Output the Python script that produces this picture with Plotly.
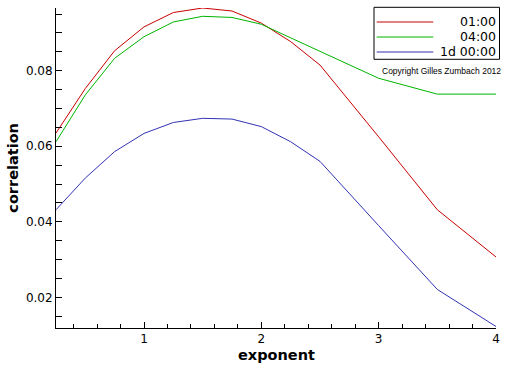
import plotly.graph_objects as go

# ---- data ----
exponent = [0.25, 0.5, 0.75, 1.0, 1.25, 1.5, 1.75, 2.0, 2.25, 2.5, 3.0, 3.5, 4.0]
corr_0100 = [0.0635, 0.0753, 0.0853, 0.0916, 0.0954, 0.0966, 0.0958, 0.0926, 0.0877, 0.0815, 0.0625, 0.0432, 0.0307]
corr_0400 = [0.0612, 0.0736, 0.0833, 0.0890, 0.0929, 0.0944, 0.0941, 0.0923, 0.0887, 0.0852, 0.0780, 0.0738, 0.0738]
corr_1d = [0.0432, 0.0516, 0.0586, 0.0634, 0.0663, 0.0674, 0.0672, 0.0652, 0.0612, 0.0560, 0.0390, 0.0221, 0.0123]
series_names = ["01:00", "04:00", "1d 00:00"]
series_values = [corr_0100, corr_0400, corr_1d]
series_colors = ["#c80000", "#00b400", "#3232b4"]

W, H = 512, 366
ML, MR, MT, MB = 56, 16, 8, 38
PW, PH = W - ML - MR, H - MT - MB


def px(x):
    return (x - ML) / PW


def py(y):
    return (H - MB - y) / PH


fig = go.Figure()
for name, vals, col in zip(series_names, series_values, series_colors):
    fig.add_trace(go.Scatter(x=exponent, y=vals, mode="lines", name=name,
                             line=dict(color=col, width=1), showlegend=False))

tickfont = dict(family="DejaVu Sans", size=12, color="black")
fig.update_layout(
    width=W, height=H,
    margin=dict(l=ML, r=MR, t=MT, b=MB),
    paper_bgcolor="white", plot_bgcolor="white",
    xaxis=dict(range=[0.25, 4.0], showgrid=False, zeroline=False,
               showline=True, linecolor="black", linewidth=1,
               ticks="inside", ticklen=6, tickcolor="black",
               tick0=0, dtick=1, tickfont=tickfont,
               minor=dict(ticks="inside", ticklen=4, tick0=0, dtick=0.2, tickcolor="black", showgrid=False)),
    yaxis=dict(range=[0.0119, 0.0966], showgrid=False, zeroline=False,
               showline=True, linecolor="black", linewidth=1,
               ticks="inside", ticklen=6, tickcolor="black",
               tick0=0, dtick=0.02, tickformat=".2f", tickfont=tickfont,
               minor=dict(ticks="inside", ticklen=6, tick0=0, dtick=0.005, tickcolor="black", showgrid=False)),
)

# axis titles
fig.add_annotation(text="exponent", xref="paper", yref="paper", x=px(276.5), y=py(355),
                   showarrow=False, xanchor="center", yanchor="middle",
                   font=dict(family="DejaVu Sans", size=14.5, color="black", weight="bold"))
fig.add_annotation(text="correlation", xref="paper", yref="paper", x=px(12.7), y=py(168),
                   showarrow=False, xanchor="center", yanchor="middle", textangle=-90,
                   font=dict(family="DejaVu Sans", size=14.5, color="black", weight="bold"))

# legend box
fig.add_shape(type="rect", xref="paper", yref="paper", x0=px(374), x1=px(499.5), y0=py(59.3), y1=py(7.3),
              line=dict(color="black", width=1), fillcolor="white", layer="above")
rows = [22, 37, 52]
for name, col, ry in zip(series_names, series_colors, rows):
    fig.add_shape(type="line", xref="paper", yref="paper", x0=px(376.7), x1=px(433.3), y0=py(ry), y1=py(ry),
                  line=dict(color=col, width=1), layer="above")
    fig.add_annotation(text=name, xref="paper", yref="paper", x=px(498), y=py(ry),
                       showarrow=False, xanchor="right", yanchor="middle",
                       font=dict(family="DejaVu Sans", size=12.5, color="black"))

fig.add_annotation(text="Copyright Gilles Zumbach 2012", xref="paper", yref="paper", x=px(503), y=py(71),
                   showarrow=False, xanchor="right", yanchor="middle",
                   font=dict(family="Liberation Sans", size=8.5, color="black"))

fig.write_html("out.html", config={"displayModeBar": False},
               post_script="document.body.style.margin='0';document.body.style.padding='0';")
